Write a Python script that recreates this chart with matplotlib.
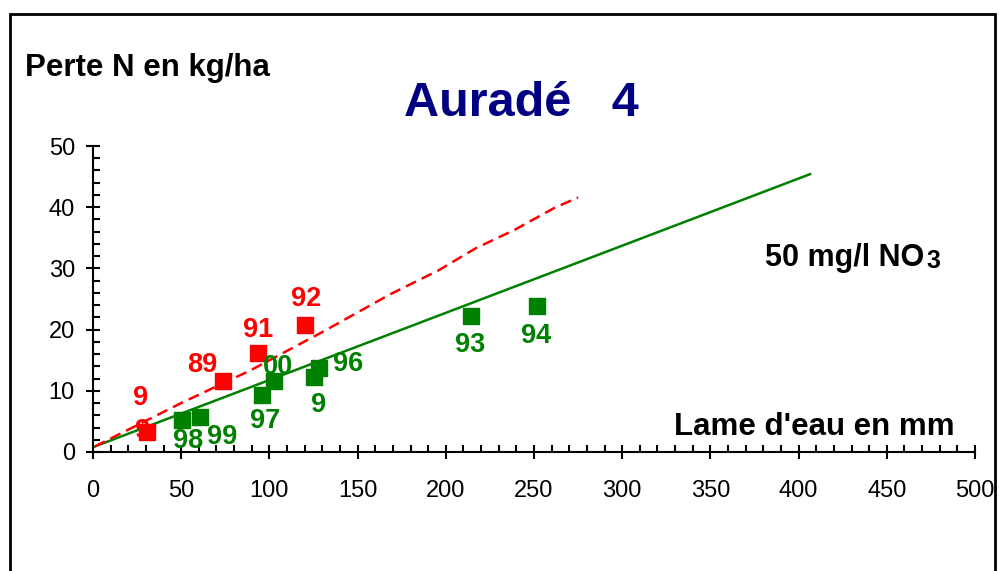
import matplotlib.pyplot as plt
from matplotlib.patches import Rectangle
from matplotlib.ticker import MultipleLocator

plt.rcParams['font.family'] = ['Liberation Sans', 'DejaVu Sans']

# red points (early years) and labels
red_x = [30.6, 73.7, 93.5, 120.2]
red_y = [3.3, 11.6, 16.2, 20.7]
red_lab = ['9', '89', '91', '92']
red_lab_x = [27.2, 61.8, 93.5, 120.7]
red_lab_y = [9.3, 14.7, 20.4, 25.5]

# green points (later years) and labels
green_x = [50.3, 60.7, 95.6, 102.6, 125.3, 128.0, 214.3, 251.7]
green_y = [5.3, 5.7, 9.3, 11.6, 12.2, 13.7, 22.2, 23.9]
green_lab = ['98', '99', '97', '00', '9', '96', '93', '94']
green_lab_x = [53.9, 73.1, 97.5, 104.9, 128.1, 144.6, 213.7, 251.1]
green_lab_y = [2.3, 2.9, 5.6, 14.4, 8.2, 14.9, 18.0, 19.4]

# dashed red curve and 50 mg/l NO3 line
curve_x = [1, 50, 89, 130, 168, 196, 217, 239, 261, 275]
curve_y = [0.9, 8.0, 13.3, 19.6, 25.7, 29.7, 33.3, 36.3, 39.8, 41.6]
limit_x = [1, 406.5]
limit_y = [0.9, 45.4]

fig = plt.figure(figsize=(9.99, 5.71), dpi=100)
fig.patches.append(Rectangle((10 / 999, -0.1), 985 / 999, 1.1 - 14 / 571,
                             transform=fig.transFigure, fill=False,
                             edgecolor='black', linewidth=2))
ax = fig.add_axes([93 / 999, 1 - 452 / 571, 882 / 999, 306 / 571])

ax.plot(limit_x, limit_y, color='#008000', linewidth=1.8, zorder=2)
ax.plot(curve_x, curve_y, color='#ff0000', linewidth=1.8,
        linestyle=(0, (4.5, 2.5)), zorder=2)

lab_size = 19.5
# the hidden label behind the first red marker
ax.text(28.3, 3.9, '9', color='#ff0000', fontsize=lab_size, fontweight='bold',
        ha='center', va='center_baseline', zorder=1)
ax.scatter(red_x, red_y, marker='s', s=130, color='#ff0000', zorder=3)
ax.scatter(green_x, green_y, marker='s', s=130, color='#008000', zorder=3)
for t, x, y in zip(red_lab, red_lab_x, red_lab_y):
    ax.text(x, y, t, color='#ff0000', fontsize=lab_size, fontweight='bold',
            ha='center', va='center_baseline', zorder=4)
for t, x, y in zip(green_lab, green_lab_x, green_lab_y):
    ax.text(x, y, t, color='#008000', fontsize=lab_size, fontweight='bold',
            ha='center', va='center_baseline', zorder=4)

ax.set_xlim(0, 500)
ax.set_ylim(0, 50)
for s in ['top', 'right']:
    ax.spines[s].set_visible(False)
for s in ['left', 'bottom']:
    ax.spines[s].set_linewidth(1.5)
ax.xaxis.set_major_locator(MultipleLocator(50))
ax.xaxis.set_minor_locator(MultipleLocator(10))
ax.yaxis.set_major_locator(MultipleLocator(10))
ax.yaxis.set_minor_locator(MultipleLocator(2))
ax.tick_params(which='major', direction='inout', length=10, width=1.5,
               labelsize=17)
ax.tick_params(axis='x', which='major', pad=15)
ax.tick_params(axis='y', which='major', pad=8)
ax.tick_params(which='minor', direction='in', length=5, width=1.5)

fig.text(25 / 999, 1 - 68 / 571, 'Perte N en kg/ha', fontsize=22.5,
         fontweight='bold', ha='left', va='center')
fig.text(521 / 999, 1 - 103 / 571, 'Auradé   4', fontsize=35,
         fontweight='bold', color='#000080', ha='center', va='center')
fig.text(765 / 999, 1 - 258 / 571, '50 mg/l NO', fontsize=22,
         fontweight='bold', ha='left', va='center')
fig.text(926 / 999, 1 - 261 / 571, '3', fontsize=18,
         fontweight='bold', ha='left', va='center')
fig.text(955 / 999, 1 - 427 / 571, "Lame d'eau en mm", fontsize=22.5,
         fontweight='bold', ha='right', va='center')

fig.savefig('out.png', dpi=100)
